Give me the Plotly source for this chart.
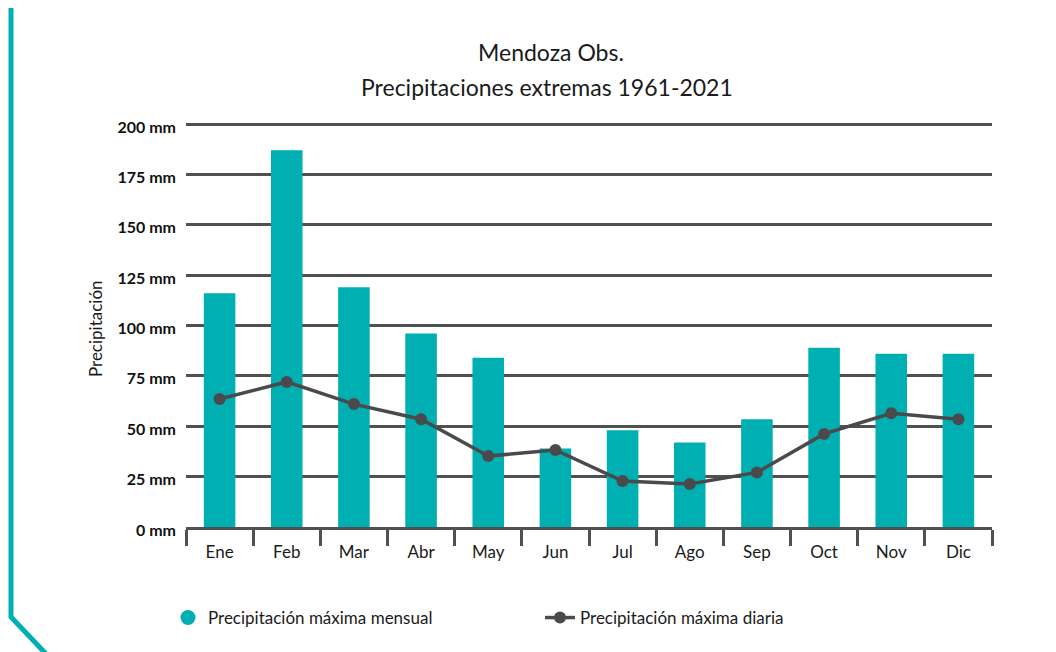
import plotly.graph_objects as go

months = ["Ene", "Feb", "Mar", "Abr", "May", "Jun", "Jul", "Ago", "Sep", "Oct", "Nov", "Dic"]
max_mensual = [116, 187, 119, 96, 84, 39, 48, 42, 53.5, 89, 86, 86]
max_diaria = [63.5, 72, 61, 53.5, 35.2, 38.2, 22.8, 21.3, 27.1, 46.2, 56.4, 53.5]
y_ticks = [0, 25, 50, 75, 100, 125, 150, 175, 200]
y_tick_labels = [f"{v} mm" for v in y_ticks]

TEAL = "#00AFB2"
DARK = "#4A4A4D"
GRID = "#505050"
FONT = "Lato"

# page body has an 8px margin; work in target (screen) pixel coordinates
OFF = 8
W, H = 1056, 652
PLOT_L, PLOT_R = 186, 992
PLOT_T, PLOT_B = 120, 527   # y range 0..202
L = PLOT_L - OFF
T = PLOT_T - OFF
PW = PLOT_R - PLOT_L
PH = PLOT_B - PLOT_T
R = W - L - PW
B = H - T - PH


def px(x):
    return (x - PLOT_L) / PW


def py(y):
    return 1 - (y - PLOT_T) / PH


fig = go.Figure()
fig.add_trace(go.Bar(x=months, y=max_mensual, marker_color=TEAL, width=0.47,
                     showlegend=False, name="Precipitación máxima mensual"))
fig.add_trace(go.Scatter(x=[None], y=[None], mode="markers",
                         marker=dict(color=TEAL, size=15, symbol="circle"),
                         name="Precipitación máxima mensual"))
fig.add_trace(go.Scatter(x=months, y=max_diaria, mode="lines+markers",
                         line=dict(color=DARK, width=3.5),
                         marker=dict(color=DARK, size=12),
                         name="Precipitación máxima diaria"))

title_font = dict(size=23, family=FONT, color="#1a1a1a")

fig.update_layout(
    width=W, height=H,
    template="none",
    paper_bgcolor="white", plot_bgcolor="white",
    margin=dict(l=L, r=R, t=T, b=B, autoexpand=False),
    font=dict(family=FONT, color="#1a1a1a"),
    xaxis=dict(type="category", showgrid=False, zeroline=False,
               showline=True, linecolor=GRID, linewidth=2.5,
               ticks="outside", tickson="boundaries", ticklen=16,
               tickwidth=2.5, tickcolor=GRID,
               tickfont=dict(size=17, family=FONT, color="#1a1a1a"),
               ticklabelstandoff=8,
               range=[-0.5, 11.5], automargin=False),
    yaxis=dict(range=[0, 202], tickvals=y_ticks, ticktext=y_tick_labels,
               showgrid=True, gridcolor=GRID, gridwidth=2.5, zeroline=False,
               showline=False, ticks="",
               tickfont=dict(size=16, family=FONT, color="#111111", weight="bold"),
               ticklabelshift=3, ticklabelstandoff=9,
               automargin=False),
    bargap=0.53,
    legend=dict(orientation="h", x=px(168), xanchor="left",
                y=py(618), yanchor="middle",
                font=dict(size=17, family=FONT, color="#1a1a1a"),
                entrywidth=327, entrywidthmode="pixels",
                bgcolor="rgba(0,0,0,0)"),
    annotations=[
        dict(text="Mendoza Obs.", x=px(551), y=py(52), xref="paper", yref="paper",
             xanchor="center", yanchor="middle", showarrow=False, font=title_font),
        dict(text="Precipitaciones extremas 1961-2021", x=px(547), y=py(87),
             xref="paper", yref="paper", xanchor="center", yanchor="middle",
             showarrow=False, font=title_font),
        dict(text="Precipitación", x=px(95), y=py(329), xref="paper", yref="paper",
             xanchor="center", yanchor="middle",
             textangle=-90, showarrow=False,
             font=dict(size=17, family=FONT, color="#1a1a1a")),
    ],
    shapes=[dict(type="path", xref="paper", yref="paper",
                 path=f"M {px(11)} {py(8)} L {px(11)} {py(617)} L {px(48)} {py(656)}",
                 line=dict(color=TEAL, width=5))],
)

fig.write_html("out.html")
